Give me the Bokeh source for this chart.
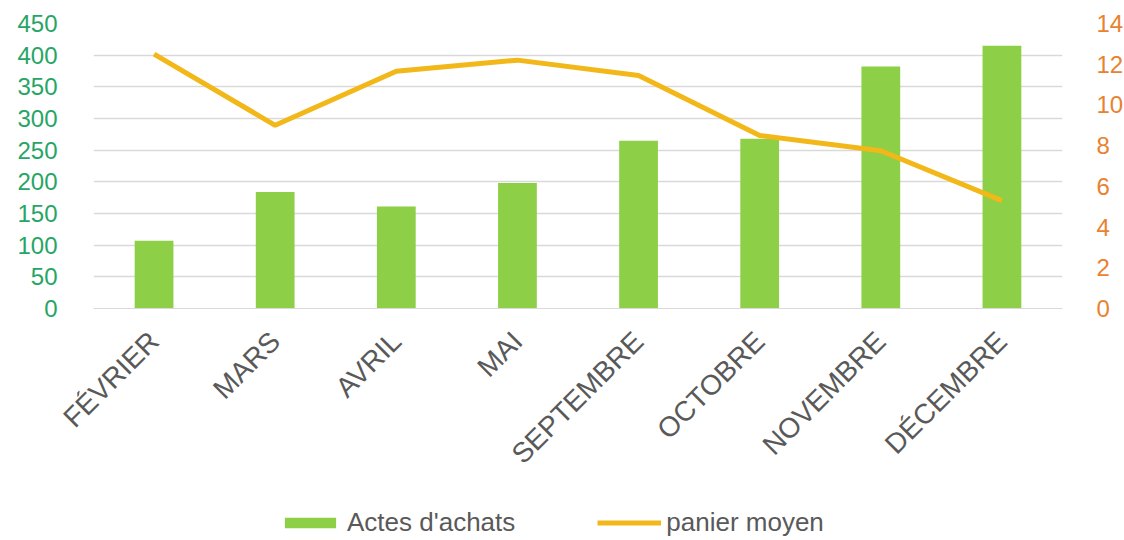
from math import pi
from bokeh.plotting import figure
from bokeh.layouts import column
from bokeh.models import (FactorRange, Range1d, LinearAxis, FixedTicker, Legend, LegendItem,
                          ColumnDataSource)
from bokeh.embed import file_html
from bokeh.resources import INLINE

months = ["FÉVRIER", "MARS", "AVRIL", "MAI", "SEPTEMBRE", "OCTOBRE", "NOVEMBRE", "DÉCEMBRE"]
actes = [107, 184, 161, 198, 265, 268, 382, 415]
panier = [12.5, 9.0, 11.65, 12.2, 11.45, 8.5, 7.75, 5.3]
left_ticks = [0, 50, 100, 150, 200, 250, 300, 350, 400, 450]
right_ticks = [0, 2, 4, 6, 8, 10, 12, 14]

FONT = "Liberation Sans"
BAR_COLOR = "#8dcf46"
LINE_COLOR = "#f2b718"

src = ColumnDataSource(dict(m=months, a=actes, p=panier))

p = figure(x_range=FactorRange(*months, range_padding=0), y_range=Range1d(0, 450),
           frame_width=969, frame_height=285, output_backend="svg", toolbar_location=None,
           min_border_left=93, min_border_right=62, min_border_top=23, min_border_bottom=190)
p.extra_y_ranges = {"r": Range1d(0, 14)}
p.outline_line_color = None

p.vbar(x="m", top="a", width=0.32, source=src, fill_color=BAR_COLOR, line_color=None)
p.line(x="m", y="p", source=src, y_range_name="r", line_color=LINE_COLOR, line_width=5)

# left axis
ax = p.yaxis[0]
ax.ticker = FixedTicker(ticks=left_ticks)
ax.axis_line_color = None
ax.major_tick_line_color = None
ax.minor_tick_line_color = None
ax.major_label_text_color = "#27a566"
ax.major_label_text_font = FONT
ax.major_label_text_font_size = "24px"
ax.major_label_standoff = 30

# right axis
ra = LinearAxis(y_range_name="r", ticker=FixedTicker(ticks=right_ticks))
ra.axis_line_color = None
ra.major_tick_line_color = None
ra.minor_tick_line_color = None
ra.major_label_text_color = "#e8822f"
ra.major_label_text_font = FONT
ra.major_label_text_font_size = "24px"
ra.major_label_standoff = 28
p.add_layout(ra, "right")

# x axis
xa = p.xaxis[0]
xa.axis_line_color = "#d9d9d9"
xa.major_tick_line_color = None
xa.minor_tick_line_color = None
xa.major_label_orientation = pi / 4
xa.major_label_text_color = "#595959"
xa.major_label_text_font = FONT
xa.major_label_text_font_size = "28px"
xa.major_label_standoff = 22

p.xgrid.grid_line_color = None
p.ygrid.grid_line_color = "#d9d9d9"
p.ygrid.grid_line_width = 1.5

# legend strip below the chart (renderers hidden, only used for legend glyphs)
lg = figure(width=1124, height=540 - (23 + 285 + 190), output_backend="svg", toolbar_location=None,
            x_axis_type=None, y_axis_type=None, min_border=0, outline_line_color=None,
            x_range=FactorRange(*months), y_range=Range1d(0, 1))
lg.grid.grid_line_color = None
rb = lg.vbar(x="m", top="a", width=0.32, source=src, fill_color=BAR_COLOR, line_color=None,
             visible=False)
rl = lg.line(x="m", y="p", source=src, line_color=LINE_COLOR, line_width=5, visible=False)
legend = Legend(items=[LegendItem(label="Actes d'achats", renderers=[rb]),
                       LegendItem(label="panier moyen", renderers=[rl])],
                orientation="horizontal", location=(185, 2),
                label_text_font=FONT, label_text_font_size="26px", label_text_color="#595959",
                glyph_width=64, glyph_height=13, label_standoff=5, spacing=82,
                border_line_color=None, background_fill_alpha=0, margin=0, padding=0,
                inactive_fill_alpha=0)
lg.add_layout(legend, "center")

layout = column(p, lg, spacing=0)
open("out.html", "w").write(file_html(layout, INLINE))
